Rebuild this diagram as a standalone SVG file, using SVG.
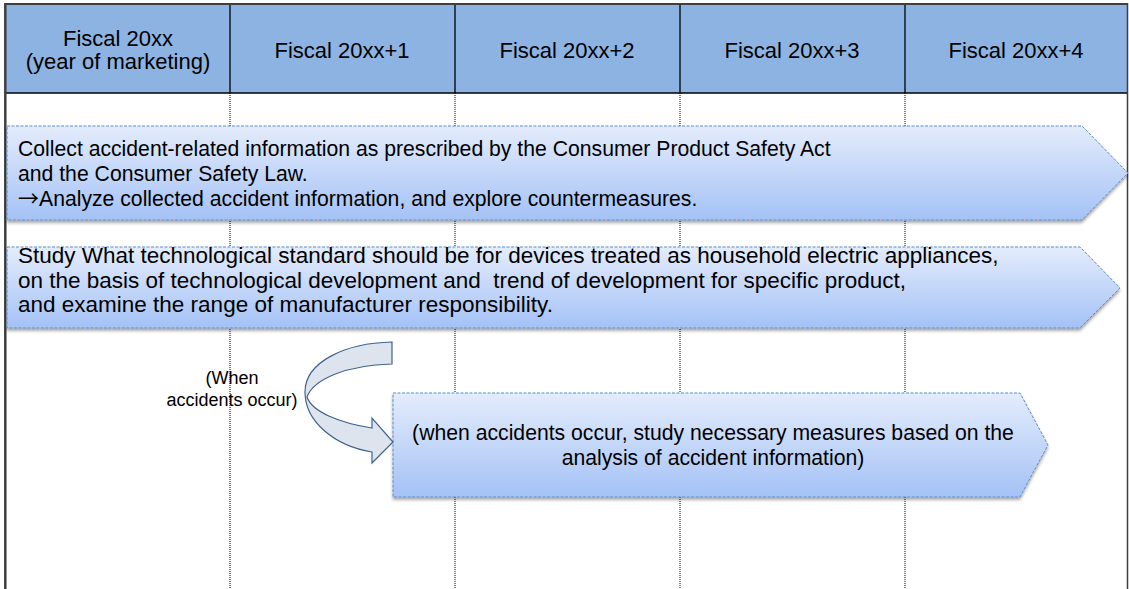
<svg xmlns="http://www.w3.org/2000/svg" width="1129" height="589" viewBox="0 0 1129 589">
  <defs>
    <linearGradient id="blueGrad" x1="0" y1="0" x2="0" y2="1">
      <stop offset="0" stop-color="#e4ecfc"/>
      <stop offset="1" stop-color="#a4c2f6"/>
    </linearGradient>
    <filter id="shadow" x="-5%" y="-10%" width="110%" height="130%">
      <feDropShadow dx="0" dy="2.5" stdDeviation="1.5" flood-color="#000" flood-opacity="0.35"/>
    </filter>
  </defs>
  <style>
    .hdr { fill: #8db3e2; stroke: none; }
    .hdrtxt { font-family: "Liberation Sans", Arial, sans-serif; font-size: 22px; fill: #000; text-anchor: middle; }
    .body { font-family: "Liberation Sans", Arial, sans-serif; font-size: 21.2px; fill: #000; }
    .wide { font-family: "Liberation Sans", Arial, sans-serif; font-size: 22.5px; fill: #000; }
    .note { font-family: "Liberation Sans", Arial, sans-serif; font-size: 18px; fill: #000; text-anchor: middle; }
    .dot { stroke: #000; stroke-width: 1; stroke-dasharray: 1 1; fill: none; }
    .sep { stroke: #000; stroke-width: 1.3; }
    .frame { stroke: #3f3f3f; stroke-width: 2.5; fill: none; }
    .arrow { fill: url(#blueGrad); stroke: #5a8ccc; stroke-width: 1; stroke-dasharray: 3 1.5; filter: url(#shadow); }
    .curve { fill: #dde4ee; stroke: #3f628f; stroke-width: 1.2; }
    .cjk { font-family: "Noto Sans CJK JP", sans-serif; font-size: 21px; }
  </style>

  <!-- header -->
  <g id="header">
    <rect class="hdr" x="5" y="4" width="1123" height="89"/>
    <line class="sep" x1="230" y1="4" x2="230" y2="93"/>
    <line class="sep" x1="455" y1="4" x2="455" y2="93"/>
    <line class="sep" x1="680" y1="4" x2="680" y2="93"/>
    <line class="sep" x1="905" y1="4" x2="905" y2="93"/>
    <line x1="5" y1="93" x2="1128" y2="93" stroke="#000" stroke-width="1.3"/>
    <line x1="5" y1="4" x2="1128" y2="4" stroke="#3f3f3f" stroke-width="2"/>
    <text class="hdrtxt" x="118" y="46">Fiscal 20xx</text>
    <text class="hdrtxt" x="118" y="69">(year of marketing)</text>
    <text class="hdrtxt" x="342" y="58">Fiscal 20xx+1</text>
    <text class="hdrtxt" x="567" y="58">Fiscal 20xx+2</text>
    <text class="hdrtxt" x="792" y="58">Fiscal 20xx+3</text>
    <text class="hdrtxt" x="1016" y="58">Fiscal 20xx+4</text>
  </g>

  <!-- grid -->
  <g id="grid">
    <line class="dot" x1="230" y1="93" x2="230" y2="589"/>
    <line class="dot" x1="455" y1="93" x2="455" y2="589"/>
    <line class="dot" x1="680" y1="93" x2="680" y2="589"/>
    <line class="dot" x1="905" y1="93" x2="905" y2="589"/>
    <line class="frame" x1="5.3" y1="3" x2="5.3" y2="589"/>
    <line x1="1127.5" y1="3" x2="1127.5" y2="589" stroke="#3f3f3f" stroke-width="1.5"/>
  </g>

  <!-- arrow 1 -->
  <g id="collect">
    <path class="arrow" d="M7,126 L1082,126 L1128,173 L1082,220 L7,220 Z"/>
    <text class="body" x="18" y="156">Collect accident-related information as prescribed by the Consumer Product Safety Act</text>
    <text class="body" x="18" y="181">and the Consumer Safety Law.</text>
    <text class="body" x="18" y="206"><tspan class="cjk">→</tspan>Analyze collected accident information, and explore countermeasures.</text>
  </g>

  <!-- arrow 2 -->
  <g id="study">
    <path class="arrow" d="M7,247 L1080,247 L1120,288 L1080,328 L7,328 Z"/>
    <text class="wide" x="18" y="263">Study What technological standard should be for devices treated as household electric appliances,</text>
    <text class="wide" x="18" y="288" xml:space="preserve">on the basis of technological development and  trend of development for specific product,</text>
    <text class="wide" x="18" y="312">and examine the range of manufacturer responsibility.</text>
  </g>

  <!-- arrow 3 -->
  <g id="measures">
    <path class="arrow" d="M393,393 L1020,393 L1048,445 L1020,497 L393,497 Z"/>
    <text class="body" x="713" y="440" text-anchor="middle">(when accidents occur, study necessary measures based on the</text>
    <text class="body" x="713" y="465" text-anchor="middle">analysis of accident information)</text>
  </g>

  <!-- curved arrow connector -->
  <g id="connectors">
    <path class="curve" d="M392,342 C345,343 305,362 305,392 C305,422 335,446 372,452 L372,463 L393,442 L372,418 L372,428 C340,423 312,412 307,397 C313,380 345,365 392,364 Z"/>
  </g>

  <g id="when-label">
    <text class="note" x="232" y="384">(When</text>
    <text class="note" x="232" y="406">accidents occur)</text>
  </g>
</svg>
